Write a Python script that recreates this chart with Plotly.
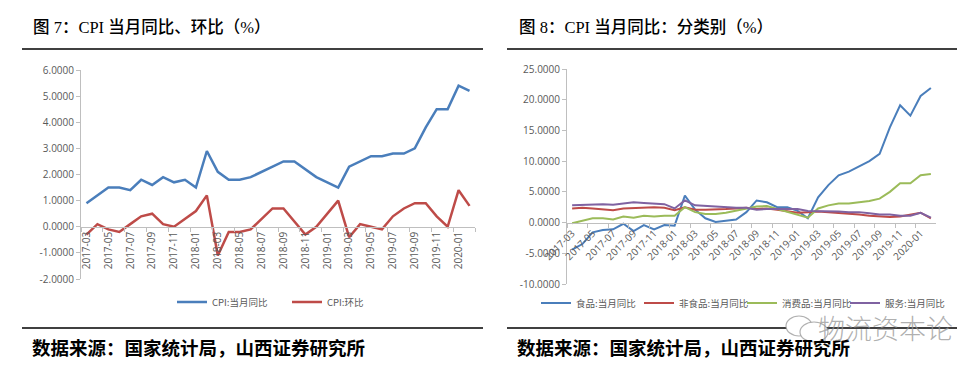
import plotly.graph_objects as go

# ---------------- data ----------------
months = ["2017-03", "2017-04", "2017-05", "2017-06", "2017-07", "2017-08", "2017-09", "2017-10",
          "2017-11", "2017-12", "2018-01", "2018-02", "2018-03", "2018-04", "2018-05", "2018-06",
          "2018-07", "2018-08", "2018-09", "2018-10", "2018-11", "2018-12", "2019-01", "2019-02",
          "2019-03", "2019-04", "2019-05", "2019-06", "2019-07", "2019-08", "2019-09", "2019-10",
          "2019-11", "2019-12", "2020-01", "2020-02"]

cpi_yoy = [0.9, 1.2, 1.5, 1.5, 1.4, 1.8, 1.6, 1.9, 1.7, 1.8, 1.5, 2.9, 2.1, 1.8, 1.8, 1.9,
           2.1, 2.3, 2.5, 2.5, 2.2, 1.9, 1.7, 1.5, 2.3, 2.5, 2.7, 2.7, 2.8, 2.8, 3.0, 3.8,
           4.5, 4.5, 5.4, 5.2]
cpi_mom = [-0.3, 0.1, -0.1, -0.2, 0.1, 0.4, 0.5, 0.1, 0.0, 0.3, 0.6, 1.2, -1.1, -0.2, -0.2, -0.1,
           0.3, 0.7, 0.7, 0.2, -0.3, 0.0, 0.5, 1.0, -0.4, 0.1, 0.0, -0.1, 0.4, 0.7, 0.9, 0.9,
           0.4, 0.0, 1.4, 0.8]

food_yoy = [-4.4, -3.5, -1.6, -1.2, -1.1, -0.2, -1.4, -0.4, -1.1, -0.4, -0.5, 4.4, 2.1, 0.7, 0.1, 0.3,
            0.5, 1.7, 3.6, 3.3, 2.5, 2.5, 1.9, 0.7, 4.1, 6.1, 7.7, 8.3, 9.1, 10.0, 11.2, 15.5,
            19.1, 17.4, 20.6, 21.9]
nonfood_yoy = [2.3, 2.4, 2.3, 2.2, 2.0, 2.3, 2.4, 2.4, 2.5, 2.4, 2.0, 2.5, 2.1, 2.1, 2.1, 2.2,
               2.3, 2.4, 2.2, 2.3, 2.1, 1.8, 1.6, 1.7, 1.8, 1.7, 1.6, 1.4, 1.3, 1.1, 1.0, 0.9,
               1.0, 1.3, 1.6, 0.7]
goods_yoy = [-0.1, 0.3, 0.7, 0.7, 0.5, 1.0, 0.8, 1.1, 1.0, 1.1, 1.1, 2.5, 1.7, 1.4, 1.4, 1.6,
             1.9, 2.3, 2.6, 2.7, 2.2, 1.7, 1.2, 0.8, 2.3, 2.8, 3.1, 3.1, 3.3, 3.5, 3.9, 5.0,
             6.4, 6.4, 7.7, 7.9]
service_yoy = [2.8, 2.9, 2.9, 3.0, 2.9, 3.1, 3.3, 3.2, 3.1, 3.0, 2.3, 3.6, 2.8, 2.7, 2.6, 2.4,
               2.4, 2.4, 2.1, 2.2, 2.2, 2.2, 2.2, 1.9, 1.9, 1.8, 1.8, 1.7, 1.7, 1.5, 1.3, 1.3,
               1.1, 1.1, 1.6, 0.8]

left_yticks = [-2, -1, 0, 1, 2, 3, 4, 5, 6]
right_yticks = [-10, -5, 0, 5, 10, 15, 20, 25]

title_left = "图 7：CPI 当月同比、环比（%）"
title_right = "图 8：CPI 当月同比：分类别（%）"
source_text = "数据来源：国家统计局，山西证券研究所"

# ---------------- layout helpers ----------------
W, H = 976, 373
def px(x):
    return x / W
def py(y):
    return 1 - y / H

BLUE = "#4A7EBB"
RED = "#BE4B48"
GREEN = "#9BBB59"
PURPLE = "#7F62A1"
AXIS_GRAY = "#BFBFBF"
TXT = "#595959"
TICKFONT = dict(family="Open Sans, Liberation Sans, sans-serif", size=10, color=TXT)
LEGFONT = dict(family="Noto Sans CJK SC, sans-serif", size=9.5, color=TXT)

lx_dom = [px(81), px(475)]
ly_dom = [py(279), py(70)]
rx_dom = [px(567), px(936)]
ry_dom = [py(284), py(69)]
l_range = [-2, 6]
r_range = [-10, 25]

def zero_pos(dom, rng):
    return dom[0] + (0 - rng[0]) / (rng[1] - rng[0]) * (dom[1] - dom[0])

fig = go.Figure()

fig.add_trace(go.Scatter(x=months, y=cpi_yoy, name="CPI:当月同比", mode="lines",
                         line=dict(color=BLUE, width=2.5), xaxis="x", yaxis="y", legend="legend"))
fig.add_trace(go.Scatter(x=months, y=cpi_mom, name="CPI:环比", mode="lines",
                         line=dict(color=RED, width=2.5), xaxis="x", yaxis="y", legend="legend"))

for name, vals, col in [("食品:当月同比", food_yoy, BLUE),
                        ("非食品:当月同比", nonfood_yoy, RED),
                        ("消费品:当月同比", goods_yoy, GREEN),
                        ("服务:当月同比", service_yoy, PURPLE)]:
    fig.add_trace(go.Scatter(x=months, y=vals, name=name, mode="lines",
                             line=dict(color=col, width=2), xaxis="x2", yaxis="y2", legend="legend2"))

xcommon = dict(type="category", range=[-0.5, len(months) - 0.5], tick0=0, dtick=2,
               showline=True, linecolor=AXIS_GRAY, linewidth=1, ticks="outside",
               tickson="boundaries", ticklen=4, tickcolor=AXIS_GRAY, showgrid=False,
               zeroline=False, tickfont=TICKFONT, anchor="free", automargin=False)
ycommon = dict(showline=True, linecolor=AXIS_GRAY, ticks="outside", ticklen=4,
               tickcolor=AXIS_GRAY, showgrid=False, zeroline=False, tickfont=TICKFONT,
               automargin=False)

fig.update_layout(
    width=W, height=H,
    margin=dict(l=0, r=0, t=0, b=0, autoexpand=False),
    paper_bgcolor="white", plot_bgcolor="rgba(0,0,0,0)",
    xaxis=dict(domain=lx_dom, position=zero_pos(ly_dom, l_range), tickangle=-90, **xcommon),
    yaxis=dict(domain=ly_dom, range=l_range, anchor="x", tickvals=left_yticks,
               ticktext=[f"{v:.4f}" for v in left_yticks], **ycommon),
    xaxis2=dict(domain=rx_dom, position=zero_pos(ry_dom, r_range), tickangle=-45, **xcommon),
    yaxis2=dict(domain=ry_dom, range=r_range, anchor="x2", tickvals=right_yticks,
                ticktext=[f"{v:.4f}" for v in right_yticks], **ycommon),
    legend=dict(orientation="h", x=px(172), xanchor="left", y=py(302), yanchor="middle",
                font=LEGFONT, bgcolor="rgba(0,0,0,0)", itemwidth=30, entrywidth=70),
    legend2=dict(orientation="h", x=px(536), xanchor="left", y=py(303), yanchor="middle",
                 font=LEGFONT, bgcolor="rgba(0,0,0,0)", itemwidth=30, entrywidth=58),
    showlegend=True,
)

TITLEFONT = dict(family="Liberation Serif, Noto Sans CJK SC, serif", size=16.5, color="black",
                 weight=500)
SRCFONT = dict(family="Noto Sans CJK SC, sans-serif", size=18.5, color="black", weight="bold")

annots = [
    dict(text=title_left, x=px(31), y=py(27), xanchor="left", yanchor="middle", font=TITLEFONT),
    dict(text=title_right, x=px(517), y=py(27), xanchor="left", yanchor="middle", font=TITLEFONT),
    dict(text=source_text, x=px(30), y=py(347), xanchor="left", yanchor="middle", font=SRCFONT),
    dict(text=source_text, x=px(515), y=py(347), xanchor="left", yanchor="middle", font=SRCFONT),
    dict(text="物流资本论", x=px(885), y=py(327), xanchor="center", yanchor="middle",
         font=dict(family="Noto Sans CJK SC, sans-serif", size=27, color="rgba(150,150,150,0.75)",
                   weight=300)),
]
for a in annots:
    a.update(xref="paper", yref="paper", showarrow=False)
fig.update_layout(annotations=annots)

shapes = []
for x0, x1 in [(22, 483), (507, 957)]:
    for yy in (49, 328):
        shapes.append(dict(type="line", xref="paper", yref="paper", x0=px(x0), x1=px(x1),
                           y0=py(yy), y1=py(yy), line=dict(color="black", width=1.5), layer="below"))
# watermark icon (two chat bubbles)
shapes.append(dict(type="circle", xref="paper", yref="paper", x0=px(786), x1=px(812),
                   y0=py(336), y1=py(316), line=dict(color="rgba(150,150,150,0.75)", width=1.2),
                   fillcolor="white"))
shapes.append(dict(type="circle", xref="paper", yref="paper", x0=px(800), x1=px(828),
                   y0=py(342), y1=py(322), line=dict(color="rgba(150,150,150,0.75)", width=1.2),
                   fillcolor="white"))
fig.update_layout(shapes=shapes)

fig.write_html("out.html", config={"displayModeBar": False},
               post_script="document.body.style.margin='0';document.body.style.overflow='hidden';")
